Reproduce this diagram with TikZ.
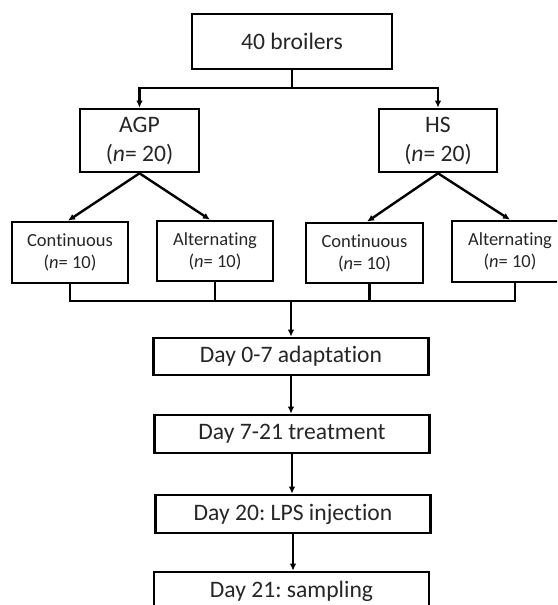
\documentclass[tikz,border=0pt]{standalone}
\usepackage{fontspec}
\setmainfont[Ligatures={NoCommon,NoContextual,NoRare}]{Carlito}
\usetikzlibrary{arrows.meta}
\frenchspacing
\begin{document}
\begin{tikzpicture}[x=1pt,y=-1pt,
  box/.style={draw=black, line width=2.6pt, inner sep=0pt, align=center, text=black!85},
  big/.style={box, font=\fontsize{23.6}{29}\selectfont},
  small/.style={box, font=\fontsize{18.5}{22}\selectfont},
  conn/.style={draw=black, line width=2.4pt},
  arr/.style={conn, -{Latex[length=7pt,width=6.5pt]}}
]
\useasboundingbox (0,0) rectangle (557,605);
\clip (0,0) rectangle (557,605);
% boxes
\node[big, minimum width=200, minimum height=55] (top) at (292,41.5) {40 broilers};
\node[big, minimum width=119, minimum height=63] (agp) at (139.5,140.5) {AGP\\(\textit{n}= 20)};
\node[big, minimum width=118, minimum height=63] (hs) at (438,140.5) {HS\\(\textit{n}= 20)};
\node[small, minimum width=116, minimum height=61] (c1) at (70,252.5) {Continuous\\(\textit{n}= 10)};
\node[small, minimum width=116, minimum height=60] (a1) at (215,251) {Alternating\\(\textit{n}= 10)};
\node[small, minimum width=117, minimum height=60] (c2) at (364.5,253) {Continuous\\(\textit{n}= 10)};
\node[small, minimum width=116, minimum height=61] (a2) at (510,251.5) {Alternating\\(\textit{n}= 10)};
\node[big, minimum width=275, minimum height=37] (d1) at (291,356.5) {Day 0-7 adaptation};
\node[big, minimum width=275, minimum height=38] (d2) at (292,434) {Day 7-21 treatment};
\node[big, minimum width=275, minimum height=38] (d3) at (293,514) {Day 20: LPS injection};
\node[big, minimum width=275, minimum height=38] (d4) at (291.5,591) {Day 21: sampling};
% junctions
\coordinate (jt) at (292,88);
\coordinate (jb) at (291,301);
% connectors
\draw[conn] (top.south) -- (jt);
\draw[arr] (jt) -| (agp.north);
\draw[arr] (jt) -| (hs.north);
\draw[arr] (agp.south) -- ([xshift=-2]c1.north);
\draw[arr] (agp.south) -- ([xshift=-5]a1.north);
\draw[arr] (hs.south) -- ([xshift=2.5]c2.north);
\draw[arr] (hs.south) -- (a2.north);
\draw[conn] (c1.south) |- (jb) -| ([xshift=5]a2.south);
\draw[conn] (a1.south) -- (a1.south |- jb);
\draw[conn] ([xshift=5]c2.south) -- ([xshift=5]c2.south |- jb);
\draw[arr] (jb) -- (d1.north);
\draw[arr] (d1.south) -- (d1.south |- d2.north);
\draw[arr] (d2.south) -- (d2.south |- d3.north);
\draw[arr] (d3.south) -- (d3.south |- d4.north);
\end{tikzpicture}
\end{document}
